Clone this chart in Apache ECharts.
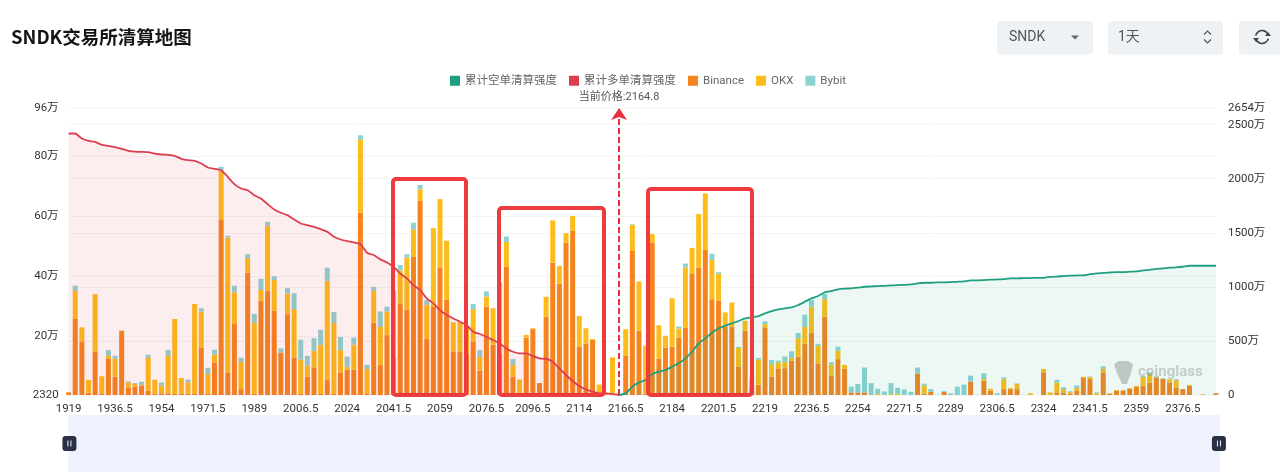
<!DOCTYPE html>
<html>
<head>
<meta charset="utf-8">
<style>
  html, body { margin: 0; padding: 0; background: #fff; }
  #chart { width: 1280px; height: 472px; }
</style>
<script src="https://cdn.jsdelivr.net/npm/echarts@6/dist/echarts.min.js"></script>
</head>
<body>
<div id="chart"></div>
<script>
// Liquidation price levels, one per bar
const priceLevels = [
  1919,1921.5,1924,1926.5,1929,1931.5,1934,1936.5,1939,1941.5,1944,1946.5,1949,1951.5,1954,
  1956.5,1959,1961.5,1964,1966.5,1969,1971.5,1974,1976.5,1979,1981.5,1984,1986.5,1989,
  1991.5,1994,1996.5,1999,2001.5,2004,2006.5,2009,2011.5,2014,2016.5,2019,2021.5,2024,
  2026.5,2029,2031.5,2034,2036.5,2039,2041.5,2044,2046.5,2049,2051.5,2054,2056.5,2059,
  2061.5,2064,2066.5,2069,2071.5,2074,2076.5,2079,2081.5,2084,2086.5,2089,2091.5,2096.5,
  2099,2101.5,2104,2106.5,2109,2111.5,2114,2116.5,2119,2121.5,2124,2126.5,2164,2166.5,
  2169,2171.5,2174,2176.5,2179,2181.5,2184,2186.5,2189,2191.5,2194,2196.5,2199,2201.5,
  2204,2206.5,2209,2211.5,2214,2216.5,2219,2221.5,2224,2226.5,2229,2231.5,2234,2236.5,
  2239,2241.5,2244,2246.5,2249,2251.5,2254,2256.5,2259,2261.5,2264,2266.5,2269,2271.5,
  2274,2276.5,2279,2281.5,2284,2286.5,2289,2291.5,2294,2296.5,2299,2301.5,2304,2306.5,
  2309,2311.5,2314,2316.5,2319,2321.5,2324,2326.5,2329,2331.5,2334,2336.5,2339,2341.5,
  2344,2346.5,2349,2351.5,2354,2356.5,2359,2361.5,2364,2366.5,2369,2371.5,2374,2376.5,
  2379,2381.5,2384,2386.5,2389
];

// Liquidation intensity per exchange, in units of 万
const binance = [
  1.1,25.6,18.1,1.0,14.7,0.6,12.4,6.3,21.7,2.8,
  3.0,3.3,1.7,0.6,0.8,0.8,0.6,0.6,0.6,0.6,
  16.1,0.6,11.1,58.6,7.6,23.9,2.2,41.1,0.6,31.7,
  35,28.3,14.4,27.2,12.8,0.6,6.3,9.4,0.6,5.2,
  0.6,7.8,8.6,8.6,61.1,0.6,24.4,10.3,20.2,12.8,
  30.8,28.7,46.3,65,18.9,29.7,42.6,32.1,14.8,14.8,
  13.9,18,8.3,29.7,17,13.9,43,6.4,0.6,19.4,
  22.2,4.2,26.4,44.4,37.4,51.1,55,16.4,17.4,18.6,
  1.1,0.2,0.6,0,13.3,48.3,21.7,0.6,51.1,12.4,
  16.1,16.4,19.4,22.6,40.6,42.8,48.6,32.2,31.7,23.1,
  23.1,9.8,21.7,2.8,3.7,22.6,6.4,8.9,9.2,11.7,
  13,17.4,21.1,10.8,26.4,6.7,12.2,9.1,1.1,1.1,
  1.1,0,0,0,0,0,0,0,7.4,0.6,
  1.3,0,1.3,0,0,0,4.7,0,5,1.7,
  0,2.2,2.2,2.2,0.2,0.2,0,7.8,0,1.1,
  1.1,0.6,1.7,5.9,5.6,0,7.8,0.6,1.7,1.7,
  2.4,3,3.3,4.4,6.1,5.6,4.4,2.8,2.2,3.3,
  0,0.4,0.2,0.8
];
const okx = [
  0,9.4,4.7,4.3,19.2,5.9,0.9,6.1,0,1.7,
  0.9,0.3,10.9,4.7,2.6,12.6,25,5.3,3.9,30,
  12,6.7,2.6,16.4,45.2,10.6,9.1,4.8,23.7,3.6,
  21.7,10.3,0,6.9,16.1,11.4,3.7,5.6,16.4,33.1,
  23.7,7.4,1.1,8.4,24.4,8.3,10.6,12.7,7.9,21.1,
  10.9,17.4,9.2,3.9,11.4,26.2,23,19.6,9.7,9.7,
  8.9,10.9,4.7,3.4,12.2,23.9,8.3,3.9,4.8,0.9,
  0.3,0,6.6,14.1,5.9,3.1,5,10.2,5.1,0.3,
  2.6,0.3,12.2,0,8.9,8.7,16.4,16.1,2.8,11.1,
  3.9,16.1,3,20.2,8.7,17.8,18.9,13.1,8.9,4.7,
  8,6.1,3.3,2.2,8.3,1.3,4.1,2.2,2.1,0.9,
  6.2,5.6,8.6,5.9,5.8,3.7,2.8,1.2,0,0,
  0,0.2,0.6,0,0.6,0.6,0,0,0,2.8,
  0,0,0,0,0,0,0,0,0.6,0.6,
  0,3.3,0.3,1.7,0.1,0.6,0,1.1,1.1,3.3,
  1.1,0.6,0.9,0.4,0.6,0.8,1.1,0.2,0.2,0.2,
  0.1,0.3,3,2.8,0.2,0,1.1,2.4,0,0.3,
  0,0,0,0
];
const bybit = [
  0,1.7,0,0,0,0,1.9,0.9,0,0.3,
  0.3,1.0,1.1,0,1.0,1.9,0,0,0.9,0,
  1.1,2,1.6,1.4,0.6,2.2,1.4,1.3,3,3.7,
  1.3,1.3,1.4,1.8,5.3,6.7,3.3,4.2,5,4.4,
  3.6,4.4,3.3,2.4,1.4,1.4,1.3,5.1,1.6,1.1,
  1.9,1.1,2.2,1.4,1.6,0,0,0,0,0,
  0,1.7,2.2,1.7,0,0,1.8,1.9,0,0,
  0,0,0,0,0,0,0,0,0,0,
  0,0,0,0,0,0.2,0,0,0,0,
  0,0,0.7,1.3,0,0,0,2.1,0.6,0,
  0,0.4,0,1.1,0.6,0.9,1.4,0.6,1.8,2.2,
  1.7,4,2.2,0.6,1.7,0.8,1.4,0,1.9,2.8,
  8.3,4,1.7,1.4,3.6,2,2.1,1.3,2,0.6,
  0.9,0.3,0.3,0.8,3,3.7,2,0.3,1.9,0,
  0.8,0.6,0,0.2,0,0,0,0,0,0.9,
  0.6,0.3,0.8,0,0.2,0.3,0.9,0,0,0,
  0,0,0.3,0.6,0.3,0.2,0,0.3,0,0,
  0,0,0,0
];

// Cumulative long liquidation intensity, from the lowest level up to the current price (万)
const cumulativeLong = [
  2418,2418,2372,2350,2341,2313,2304,2292,2276,2258,2251,2248,2245,2233,2224,2221,2211,2184,2171,2165,
  2141,2104,2091,2079,2017,1950,1910,1894,1848,1817,1765,1716,1685,1663,1623,1586,1571,1555,1534,1509,
  1463,1438,1423,1411,1395,1315,1294,1254,1226,1186,1124,1078,1016,970,893,847,785,739,708,678,
  647,585,564,539,508,477,431,400,385,385,360,339,333,308,246,185,129,83,52,31,
  15,15,9,0
];
// Cumulative short liquidation intensity, from the current price to the highest level (万)
const cumulativeShort = [
  0,15,77,117,139,194,216,231,262,293,339,400,477,524,576,616,641,662,684,708,
  718,730,755,776,792,801,810,832,862,893,915,949,961,976,983,986,992,1001,1004,1007,
  1010,1013,1016,1019,1023,1032,1038,1038,1041,1041,1044,1047,1050,1060,1060,1063,1066,1069,1072,1078,
  1078,1081,1081,1084,1084,1093,1096,1100,1103,1106,1106,1118,1124,1130,1133,1137,1137,1140,1143,1152,
  1158,1167,1170,1177,1180,1186,1195,1195,1195,1195,1195
];

// Axis tick values
const leftTicks = [0.232, 20, 40, 60, 80, 96];
const rightTicks = [0, 500, 1000, 1500, 2000, 2500, 2654];

const currentPrice = '2164.8';
const currentLevel = '2164';

const FONT = 'Roboto, "Noto Sans CJK SC", sans-serif';
const CJK = '"Noto Sans CJK SC", sans-serif';
const categories = priceLevels.map(String);
const longLine = cumulativeLong.concat(new Array(categories.length - cumulativeLong.length).fill(null));
const shortLine = new Array(categories.length - cumulativeShort.length).fill(null).concat(cumulativeShort);

const C = {
  green: '#1F9F80', red: '#DC3E50', binance: '#F5841F', okx: '#FDBC1A', bybit: '#8CD3D2',
  box: '#EE3B3F', panel: '#EFF2F5', label: '#333', legend: '#666', ctl: '#4F5660', grid: '#F5F5F5'
};

function stacked(name, data, color) {
  return {
    name, type: 'bar', stack: 'exchanges', data, barWidth: 5,
    itemStyle: { color }, silent: true, z: 2
  };
}

function cumulative(name, data, color, area, extra) {
  return Object.assign({
    name, type: 'line', yAxisIndex: 1, data, showSymbol: false, smooth: 0.15, connectNulls: false,
    lineStyle: { color, width: 1.8 }, itemStyle: { color },
    areaStyle: { color: area, origin: 'start' }, z: 3, silent: true
  }, extra || {});
}

function panel(x, w) {
  return { type: 'rect', shape: { x, y: 21, width: w, height: 33.5, r: 4 }, style: { fill: C.panel }, silent: true };
}
function ctlText(text, x) {
  return { type: 'text', x, y: 37, style: { text, fill: C.ctl, font: '14px ' + FONT + ',' + CJK, textVerticalAlign: 'middle' }, silent: true };
}
function redBox(x, y, w, h) {
  return { type: 'rect', z: 20, shape: { x, y, width: w, height: h, r: 3 },
    style: { fill: 'none', stroke: C.box, lineWidth: 4 }, silent: true };
}

const graphicElements = [
  panel(997, 96),
  ctlText('SNDK', 1009),
  { type: 'polygon', shape: { points: [[1071, 35.5], [1079, 35.5], [1075, 39.5]] }, style: { fill: '#666' }, silent: true },
  panel(1108, 115),
  ctlText('1天', 1118),
  { type: 'polyline', shape: { points: [[1204, 34.5], [1207.5, 31], [1211, 34.5]] }, style: { fill: 'none', stroke: '#555', lineWidth: 1.2 }, silent: true },
  { type: 'polyline', shape: { points: [[1204, 39.5], [1207.5, 43], [1211, 39.5]] }, style: { fill: 'none', stroke: '#555', lineWidth: 1.2 }, silent: true },
  panel(1239, 60),
  { type: 'arc', shape: { cx: 1262, cy: 37, r: 6.5, startAngle: -2.9, endAngle: -0.3 }, style: { fill: 'none', stroke: '#3E4650', lineWidth: 1.7 }, silent: true },
  { type: 'arc', shape: { cx: 1262, cy: 37, r: 6.5, startAngle: 0.25, endAngle: 2.85 }, style: { fill: 'none', stroke: '#3E4650', lineWidth: 1.7 }, silent: true },
  { type: 'polygon', shape: { points: [[1265, 36], [1271, 36], [1268, 32]] }, style: { fill: '#3E4650' }, silent: true },
  { type: 'polygon', shape: { points: [[1253, 38], [1259, 38], [1256, 42]] }, style: { fill: '#3E4650' }, silent: true },
  // Highlighted liquidation clusters
  redBox(393, 179, 73, 216),
  redBox(499, 208, 105, 187),
  redBox(648, 189, 104, 206),
  // Watermark
  { type: 'polygon', z: 15, shape: { points: [[1114, 364], [1119, 361], [1128, 361], [1133, 364], [1131, 373], [1127, 384], [1122, 384], [1117, 373]] },
    style: { fill: 'rgba(130,140,140,0.45)' }, silent: true },
  { type: 'text', z: 15, x: 1138, y: 372, style: { text: 'coinglass', fill: 'rgba(130,140,140,0.4)', font: 'bold 15px ' + FONT, textVerticalAlign: 'middle' }, silent: true }
];

const chart = echarts.init(document.getElementById('chart'), null, { renderer: 'canvas' });
chart.setOption({
  animation: false,
  backgroundColor: '#fff',
  title: {
    text: 'SNDK交易所清算地图', left: 6, top: 23,
    textStyle: { fontFamily: CJK, fontSize: 18.5, fontWeight: 'bold', color: '#151515' }
  },
  legend: {
    top: 70, left: 445, itemWidth: 10, itemHeight: 10, itemGap: 12, icon: 'rect',
    textStyle: { fontFamily: FONT, fontSize: 11.5, color: C.legend },
    data: ['累计空单清算强度', '累计多单清算强度', 'Binance', 'OKX', 'Bybit']
  },
  grid: { left: 68.6, right: 64, top: 108, bottom: 77 },
  xAxis: {
    type: 'category', data: categories, boundaryGap: false,
    axisLine: { show: false }, axisTick: { show: false },
    axisLabel: { interval: 6, margin: 8, fontFamily: FONT, fontSize: 11.5, color: C.label, showMinLabel: true }
  },
  yAxis: [
    {
      type: 'value', min: leftTicks[0], max: leftTicks[leftTicks.length - 1],
      axisLine: { show: false },
      axisTick: { show: false, customValues: leftTicks },
      splitLine: { lineStyle: { color: C.grid } },
      axisLabel: {
        customValues: leftTicks, margin: 10, fontFamily: FONT, fontSize: 11.5, color: C.label,
        formatter: v => v < 1 ? String(Math.round(v * 10000)) : v + '万'
      }
    },
    {
      type: 'value', min: 0, max: rightTicks[rightTicks.length - 1], position: 'right',
      axisLine: { show: false },
      axisTick: { show: false, customValues: rightTicks },
      splitLine: { lineStyle: { color: C.grid } },
      axisLabel: {
        customValues: rightTicks, margin: 12, fontFamily: FONT, fontSize: 11.5, color: C.label,
        formatter: v => v === 0 ? '0' : v + '万'
      }
    }
  ],
  dataZoom: [{
    type: 'slider', xAxisIndex: 0, start: 0, end: 100, left: 67.5, right: 61, top: 415, height: 57,
    backgroundColor: '#EEF2FC', fillerColor: '#EEF2FC', borderColor: 'transparent',
    showDataShadow: false, showDetail: false, brushSelect: false, moveHandleSize: 0,
    // Rounded grip with two slots cut out of it
    handleIcon: 'path://M3,0 H11 A3,3 0 0 1 14,3 V12 A3,3 0 0 1 11,15 H3 A3,3 0 0 1 0,12 V3 A3,3 0 0 1 3,0 Z M5,4.5 V10.5 H6 V4.5 Z M8,4.5 V10.5 H9 V4.5 Z',
    handleSize: 15,
    handleStyle: { color: '#2B3145', borderColor: '#2B3145', borderWidth: 0 }
  }],
  series: [
    cumulative('累计空单清算强度', shortLine, C.green, 'rgba(26,165,131,0.11)'),
    cumulative('累计多单清算强度', longLine, C.red, 'rgba(226,59,78,0.13)', {
      markLine: {
        silent: true, symbol: ['none', 'arrow'], symbolSize: 12,
        lineStyle: { color: '#E8303F', type: [6, 3], width: 2 },
        label: {
          position: 'end', distance: 5, formatter: '当前价格:' + currentPrice,
          fontFamily: FONT, fontSize: 11, color: '#555'
        },
        data: [{ xAxis: currentLevel }]
      }
    }),
    stacked('Binance', binance, C.binance),
    stacked('OKX', okx, C.okx),
    stacked('Bybit', bybit, C.bybit)
  ],
  graphic: { elements: graphicElements }
});
</script>
</body>
</html>
